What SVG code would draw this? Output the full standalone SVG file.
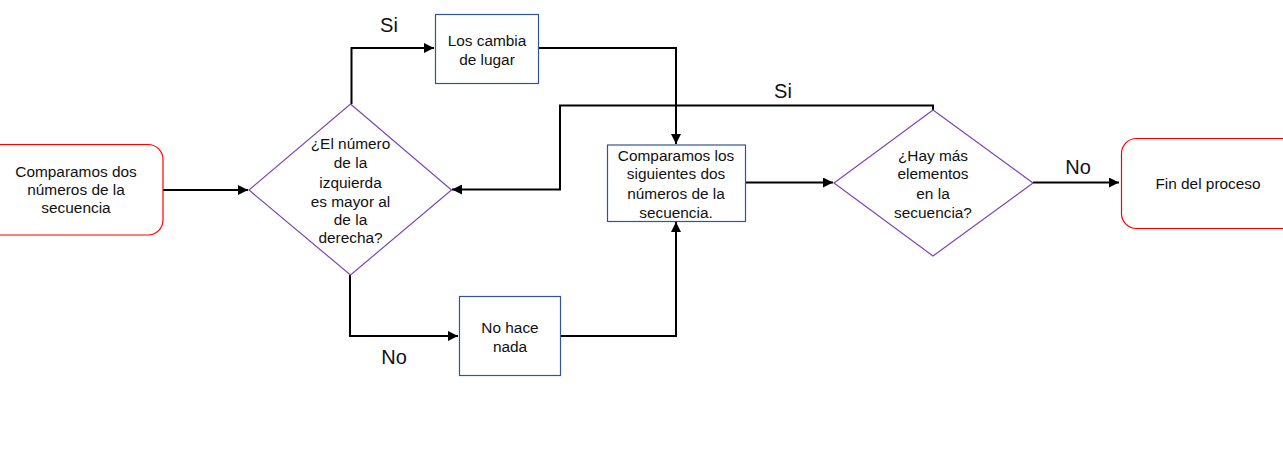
<svg xmlns="http://www.w3.org/2000/svg" width="1283" height="455" viewBox="0 0 1283 455">
<style>
text{font-family:"Liberation Sans",Arial,sans-serif;fill:#111;text-anchor:middle}
.t{font-size:15.4px}
.lbl{font-size:20px}
.term{fill:#fff;stroke:#ff0000;stroke-width:1.2}
.proc{fill:#fff;stroke:#2f5597;stroke-width:1.2}
.dec{fill:#fff;stroke:#7f45b5;stroke-width:1.2}
.c{fill:none;stroke:#000;stroke-width:2}
</style>
<defs>
<marker id="ah" viewBox="0 0 10 10" refX="10" refY="5" markerWidth="5" markerHeight="5" orient="auto" markerUnits="strokeWidth">
<path d="M0,0 L10,5 L0,10 z" fill="#000"/>
</marker>
</defs>
<rect width="1283" height="455" fill="#fff"/>
<g id="connectors">
<path class="c" d="M163,190 H248" marker-end="url(#ah)"/>
<path class="c" d="M351.5,104 V48 H434" marker-end="url(#ah)"/>
<path class="c" d="M539,48 H676 V144" marker-end="url(#ah)"/>
<path class="c" d="M350,275 V336 H458" marker-end="url(#ah)"/>
<path class="c" d="M561,336 H676 V222" marker-end="url(#ah)"/>
<path class="c" d="M746,182.5 H833" marker-end="url(#ah)"/>
<path class="c" d="M933,110 V105.5 H560 V189.5 H452" marker-end="url(#ah)"/>
<path class="c" d="M1033,182.5 H1119" marker-end="url(#ah)"/>
<text class="lbl" x="389" y="32">Si</text>
<text class="lbl" x="783" y="98">Si</text>
<text class="lbl" x="394" y="364">No</text>
<text class="lbl" x="1078" y="174">No</text>
</g>
<g id="start">
<rect class="term" x="-20" y="144.5" width="183" height="90.5" rx="15"/>
<text class="t"><tspan x="76" y="176.5">Comparamos dos</tspan><tspan x="76" y="194.5">números de la</tspan><tspan x="76" y="212.5">secuencia</tspan></text>
</g>
<g id="decision1">
<polygon class="dec" points="350.5,104 451.5,190 350.5,275 249,190"/>
<text class="t"><tspan x="350.5" y="148.5">¿El número</tspan><tspan x="350.5" y="167.5">de la</tspan><tspan x="350.5" y="187.5">izquierda</tspan><tspan x="350.5" y="206.5">es mayor al</tspan><tspan x="350.5" y="224.5">de la</tspan><tspan x="350.5" y="242.5">derecha?</tspan></text>
</g>
<g id="swap">
<rect class="proc" x="435.5" y="14.5" width="103" height="69"/>
<text class="t"><tspan x="487" y="45.5">Los cambia</tspan><tspan x="487" y="64.5">de lugar</tspan></text>
</g>
<g id="nothing">
<rect class="proc" x="459.5" y="296.5" width="101" height="79"/>
<text class="t"><tspan x="510" y="332.5">No hace</tspan><tspan x="510" y="351.5">nada</tspan></text>
</g>
<g id="next">
<rect class="proc" x="607.5" y="145" width="138" height="76.5"/>
<text class="t"><tspan x="676" y="160.5">Comparamos los</tspan><tspan x="676" y="179">siguientes dos</tspan><tspan x="676" y="198.5">números de la</tspan><tspan x="676" y="217.5">secuencia.</tspan></text>
</g>
<g id="decision2">
<polygon class="dec" points="933,110 1033,183 933,256 834,183"/>
<text class="t"><tspan x="933" y="160.5">¿Hay más</tspan><tspan x="933" y="179">elementos</tspan><tspan x="933" y="198.5">en la</tspan><tspan x="933" y="217.5">secuencia?</tspan></text>
</g>
<g id="end">
<rect class="term" x="1121.5" y="138.5" width="180" height="90" rx="15"/>
<text class="t" x="1208" y="188.5">Fin del proceso</text>
</g>
</svg>
